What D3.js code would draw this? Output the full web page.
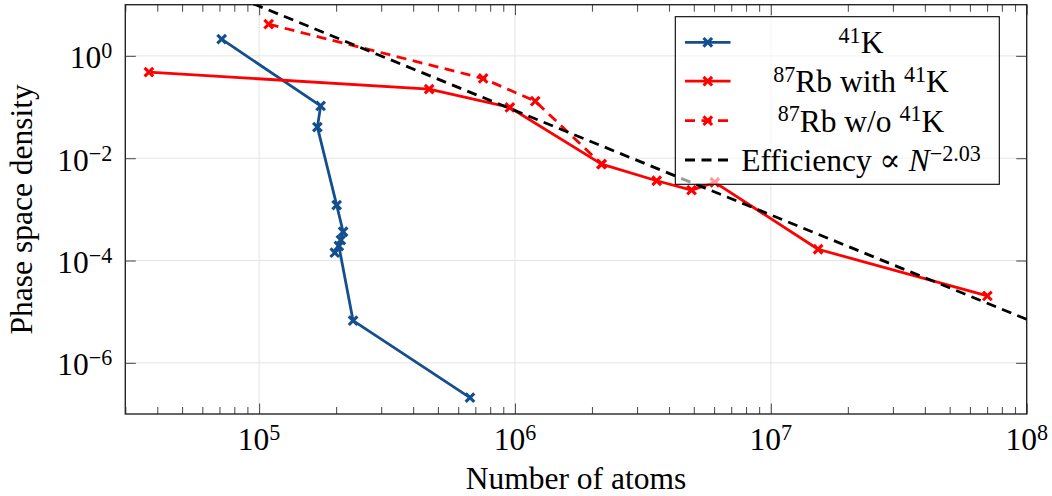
<!DOCTYPE html>
<html><head><meta charset="utf-8">
<script src="https://cdn.jsdelivr.net/npm/d3@7"></script>
<style>
body{margin:0;background:#fff}
svg{display:block}
text{font-family:"Liberation Serif","DejaVu Serif",serif;fill:#000}
</style>
</head><body><svg id="c" width="1052" height="496"></svg>
<script>
// ---- data ----
const kN   = [71400, 174000, 169000, 201000, 213000, 208700, 197600, 205000, 233000, 667000];
const kPSD = [2.12, 0.105, 0.0405, 1.21e-3, 3.65e-4, 2.51e-4, 1.42e-4, 1.92e-4, 6.67e-6, 2.09e-7];

const rbN   = [37100, 462000, 955000, 2.18e6, 3.58e6, 4.90e6, 6.04e6, 1.53e7, 7.02e7];
const rbPSD = [0.48, 0.224, 0.098, 7.67e-3, 3.62e-3, 2.38e-3, 3.37e-3, 1.66e-4, 2.03e-5];

const rbNoKN   = [109000, 751000, 1.20e6, 2.18e6];
const rbNoKPSD = [4.16, 0.362, 0.130, 7.67e-3];

const fitN   = [9.5e4, 1e8];
const fitPSD = [10.4, 7.1e-6];

const xMajor = [1e5, 1e6, 1e7, 1e8];
const xMajorExp = ["5", "6", "7", "8"];
const yMajor = [1e0, 1e-2, 1e-4, 1e-6];
const yMajorExp = ["0", "\u22122", "\u22124", "\u22126"];

const xTitle = "Number of atoms";
const yTitle = "Phase space density";

// ---- setup ----
const svg = d3.select("#c");
const m = {l:125.3, r:1026.7, t:4.7, b:414};
const x = d3.scaleLog().domain([3e4, 1e8]).range([m.l, m.r]);
const y = d3.scaleLog().domain([1e-7, 1e1]).range([m.b, m.t]);
const FS = 31.5;

const blue = "#134f8f", red = "#ff0000";

// minor ticks for x
const xMinor = [];
for (let e = 4; e < 8; e++) for (let k = 2; k <= 9; k++) {
  const v = k * Math.pow(10, e);
  if (v >= 3e4 && v <= 1e8) xMinor.push(v);
}

// grid
const grid = svg.append("g");
grid.selectAll(".gx").data(xMajor.slice(0,3)).join("line")
  .attr("x1", d => x(d)).attr("x2", d => x(d)).attr("y1", m.t).attr("y2", m.b)
  .attr("stroke", "#e4e4e4").attr("stroke-width", 1);
grid.selectAll(".gy").data(yMajor).join("line")
  .attr("y1", d => y(d)).attr("y2", d => y(d)).attr("x1", m.l).attr("x2", m.r)
  .attr("stroke", "#e4e4e4").attr("stroke-width", 1);

// axes ticks (inward)
function styleAxis(g){ g.select(".domain").remove(); g.selectAll(".tick line").attr("stroke","#555").attr("stroke-width",1.1); g.selectAll(".tick text").remove(); }
svg.append("g").attr("transform",`translate(0,${m.b})`)
  .call(d3.axisBottom(x).tickValues(xMajor).tickSizeInner(-10.5).tickSizeOuter(0).tickFormat("")).call(styleAxis);
svg.append("g").attr("transform",`translate(0,${m.b})`)
  .call(d3.axisBottom(x).tickValues(xMinor).tickSizeInner(-7).tickSizeOuter(0).tickFormat("")).call(styleAxis);
svg.append("g").attr("transform",`translate(0,${m.t})`)
  .call(d3.axisTop(x).tickValues(xMajor).tickSizeInner(-10.5).tickSizeOuter(0).tickFormat("")).call(styleAxis);
svg.append("g").attr("transform",`translate(0,${m.t})`)
  .call(d3.axisTop(x).tickValues(xMinor).tickSizeInner(-7).tickSizeOuter(0).tickFormat("")).call(styleAxis);
svg.append("g").attr("transform",`translate(${m.l},0)`)
  .call(d3.axisLeft(y).tickValues(yMajor).tickSizeInner(-10.5).tickSizeOuter(0).tickFormat("")).call(styleAxis);
svg.append("g").attr("transform",`translate(${m.r},0)`)
  .call(d3.axisRight(y).tickValues(yMajor).tickSizeInner(-10.5).tickSizeOuter(0).tickFormat("")).call(styleAxis);

// frame
svg.append("rect").attr("x", m.l).attr("y", m.t).attr("width", m.r - m.l).attr("height", m.b - m.t)
  .attr("fill", "none").attr("stroke", "#262626").attr("stroke-width", 1.4);

// tick labels
function pow10(sel, exp){
  sel.append("tspan").text("10");
  sel.append("tspan").attr("dy", -10).attr("font-size", FS*0.7).text(exp);
}
xMajor.forEach((v,i) => {
  svg.append("text").attr("x", x(v)).attr("y", m.b + 35.5).attr("text-anchor","middle")
    .attr("font-size", FS).call(pow10, xMajorExp[i]);
});
yMajor.forEach((v,i) => {
  svg.append("text").attr("x", m.l - 13).attr("y", y(v) + 12.5).attr("text-anchor","end")
    .attr("font-size", FS).call(pow10, yMajorExp[i]);
});

// axis titles
svg.append("text").attr("x", (m.l+m.r)/2).attr("y", 488.5).attr("text-anchor","middle")
  .attr("font-size", FS).text(xTitle);
svg.append("text").attr("transform", `translate(32,${(m.t+m.b)/2}) rotate(-90)`).attr("text-anchor","middle")
  .attr("font-size", FS).text(yTitle);

// clip
svg.append("clipPath").attr("id","clip").append("rect")
  .attr("x", m.l).attr("y", m.t).attr("width", m.r-m.l).attr("height", m.b-m.t);

const line = d3.line().x(d => x(d[0])).y(d => y(d[1]));
const zip = (a,b) => a.map((v,i) => [v, b[i]]);
const markPath = "M-4.3,-4.3L4.3,4.3M-4.3,4.3L4.3,-4.3";

const plot = svg.append("g").attr("clip-path","url(#clip)");
const series = [
  {d: zip(kN, kPSD), color: blue, dash: null, marks: true},
  {d: zip(rbN, rbPSD), color: red, dash: null, marks: true},
  {d: zip(rbNoKN, rbNoKPSD), color: red, dash: "10,6.5", marks: true},
  {d: zip(fitN, fitPSD), color: "#000", dash: "10,6.5", marks: false}
];
series.forEach(s => {
  plot.append("path").datum(s.d).attr("d", line).attr("fill","none")
    .attr("stroke", s.color).attr("stroke-width", 2.8)
    .attr("stroke-dasharray", s.dash).attr("stroke-linejoin","round");
  if (s.marks) {
    plot.selectAll(null).data(s.d).join("path")
      .attr("transform", d => `translate(${x(d[0])},${y(d[1])})`)
      .attr("d", markPath).attr("stroke", s.color).attr("stroke-width", 3.1).attr("fill","none");
  }
});

// legend
const lg = svg.append("g");
const L = {x0: 675.3, y0: 16.7, x1: 999.3, y1: 184.3};
lg.append("rect").attr("x", L.x0).attr("y", L.y0).attr("width", L.x1-L.x0).attr("height", L.y1-L.y0)
  .attr("fill","#fff").attr("fill-opacity",0.6).attr("stroke","#000").attr("stroke-width",1.1);
const rowsY = [42.3, 81.2, 120.7, 160];
const legendItems = [
  {color: blue, dash: null, marks: true, parts: [["sup","41"],["n","K"]]},
  {color: red, dash: null, marks: true, parts: [["sup","87"],["n","Rb with "],["sup","41"],["n","K"]]},
  {color: red, dash: "10,6.5", marks: true, parts: [["sup","87"],["n","Rb w/o "],["sup","41"],["n","K"]]},
  {color: "#000", dash: "10,6.5", marks: false, parts: [["n","Efficiency \u221D "],["i","N"],["sup","\u22122.03"]]}
];
legendItems.forEach((it, i) => {
  const ry = rowsY[i];
  lg.append("line").attr("x1", 685).attr("x2", 730.5).attr("y1", ry).attr("y2", ry)
    .attr("stroke", it.color).attr("stroke-width", 2.8).attr("stroke-dasharray", it.dash);
  if (it.marks) lg.append("path").attr("transform", `translate(707.8,${ry})`).attr("d", markPath)
    .attr("stroke", it.color).attr("stroke-width", 3.1).attr("fill","none");
  const t = lg.append("text").attr("x", 861).attr("y", ry + 11).attr("text-anchor","middle").attr("font-size", FS);
  let up = false;
  it.parts.forEach(([k, s]) => {
    const ts = t.append("tspan").text(s);
    if (k === "sup") { ts.attr("font-size", FS*0.7).attr("dy", up ? 0 : -10.5); up = true; }
    else { ts.attr("dy", up ? 10.5 : 0); up = false; if (k === "i") ts.attr("font-style","italic"); }
  });
});
</script></body></html>
